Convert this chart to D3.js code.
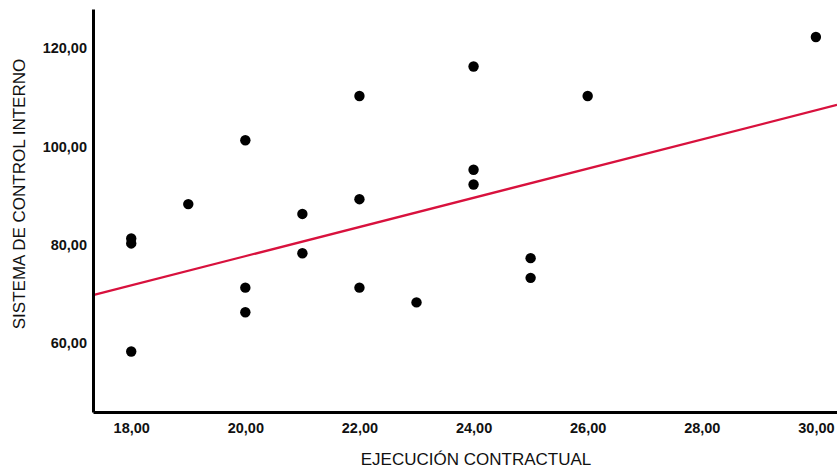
<!DOCTYPE html>
<html>
<head>
<meta charset="utf-8">
<script src="https://cdn.jsdelivr.net/npm/d3@7"></script>
<style>
  html, body { margin: 0; padding: 0; background: #fff; }
  svg { display: block; }
</style>
</head>
<body>
<svg id="chart" width="837" height="470"></svg>
<script>
// Data
const ejecucion = [18, 18, 18, 19, 20, 20, 20, 21, 21, 22, 22, 22, 23, 24, 24, 24, 25, 25, 26, 30];
const sistema   = [81, 80, 58, 88, 101, 71, 66, 86, 78, 110, 89, 71, 68, 116, 95, 92, 77, 73, 110, 122];
const xTicks = [18, 20, 22, 24, 26, 28, 30];
const yTicks = [60, 80, 100, 120];
const fitIntercept = 18.0;
const fitSlope = 2.97;
const xTitle = "EJECUCIÓN CONTRACTUAL";
const yTitle = "SISTEMA DE CONTROL INTERNO";

(function () {
const svg = d3.select("#chart");
const mLeft = 93, mRight = 837, mTop = 9, mBottom = 412;

const x = d3.scaleLinear().domain([17.33, 30.37]).range([mLeft, mRight]);
const y = d3.scaleLinear().domain([45.7, 127.7]).range([mBottom, mTop]);

const fmt = v => d3.format(".2f")(v).replace(".", ",");
const font = "'Liberation Sans', Arial, Helvetica, sans-serif";

// Points
svg.append("g").selectAll("circle")
  .data(ejecucion.map((d, i) => [d, sistema[i]]))
  .join("circle")
  .attr("cx", d => x(d[0]))
  .attr("cy", d => y(d[1]))
  .attr("r", 5.2)
  .attr("fill", "#000");

// Fit line
const xd = x.domain();
svg.append("line")
  .attr("x1", x(xd[0])).attr("y1", y(fitIntercept + fitSlope * xd[0]))
  .attr("x2", x(xd[1])).attr("y2", y(fitIntercept + fitSlope * xd[1]))
  .attr("stroke", "#d8113d")
  .attr("stroke-width", 2.2);

// Axes
const gx = svg.append("g")
  .attr("transform", `translate(0,${mBottom})`)
  .call(d3.axisBottom(x).tickValues(xTicks).tickFormat(fmt).tickSize(0).tickSizeOuter(0));
gx.select(".domain").attr("stroke", "#000").attr("stroke-width", 3);
gx.selectAll("text")
  .attr("y", 0).attr("dy", 0)
  .attr("transform", "translate(0,21)")
  .attr("font-family", font).attr("font-size", 14.5).attr("font-weight", "bold").attr("fill", "#111");

const gy = svg.append("g")
  .attr("transform", `translate(${mLeft},0)`)
  .call(d3.axisLeft(y).tickValues(yTicks).tickFormat(fmt).tickSize(0).tickSizeOuter(0));
gy.select(".domain").attr("stroke", "#000").attr("stroke-width", 3);
gy.selectAll("text")
  .attr("x", -6).attr("dy", 0)
  .attr("transform", "translate(0,6)")
  .attr("font-family", font).attr("font-size", 14.5).attr("font-weight", "bold").attr("fill", "#111");

// Titles
svg.append("text")
  .attr("x", 476).attr("y", 465)
  .attr("text-anchor", "middle")
  .attr("font-family", font).attr("font-size", 17).attr("fill", "#111")
  .text(xTitle);

svg.append("text")
  .attr("transform", "translate(25,194) rotate(-90)")
  .attr("text-anchor", "middle")
  .attr("font-family", font).attr("font-size", 17).attr("fill", "#111")
  .text(yTitle);
})();
</script>
</body>
</html>
